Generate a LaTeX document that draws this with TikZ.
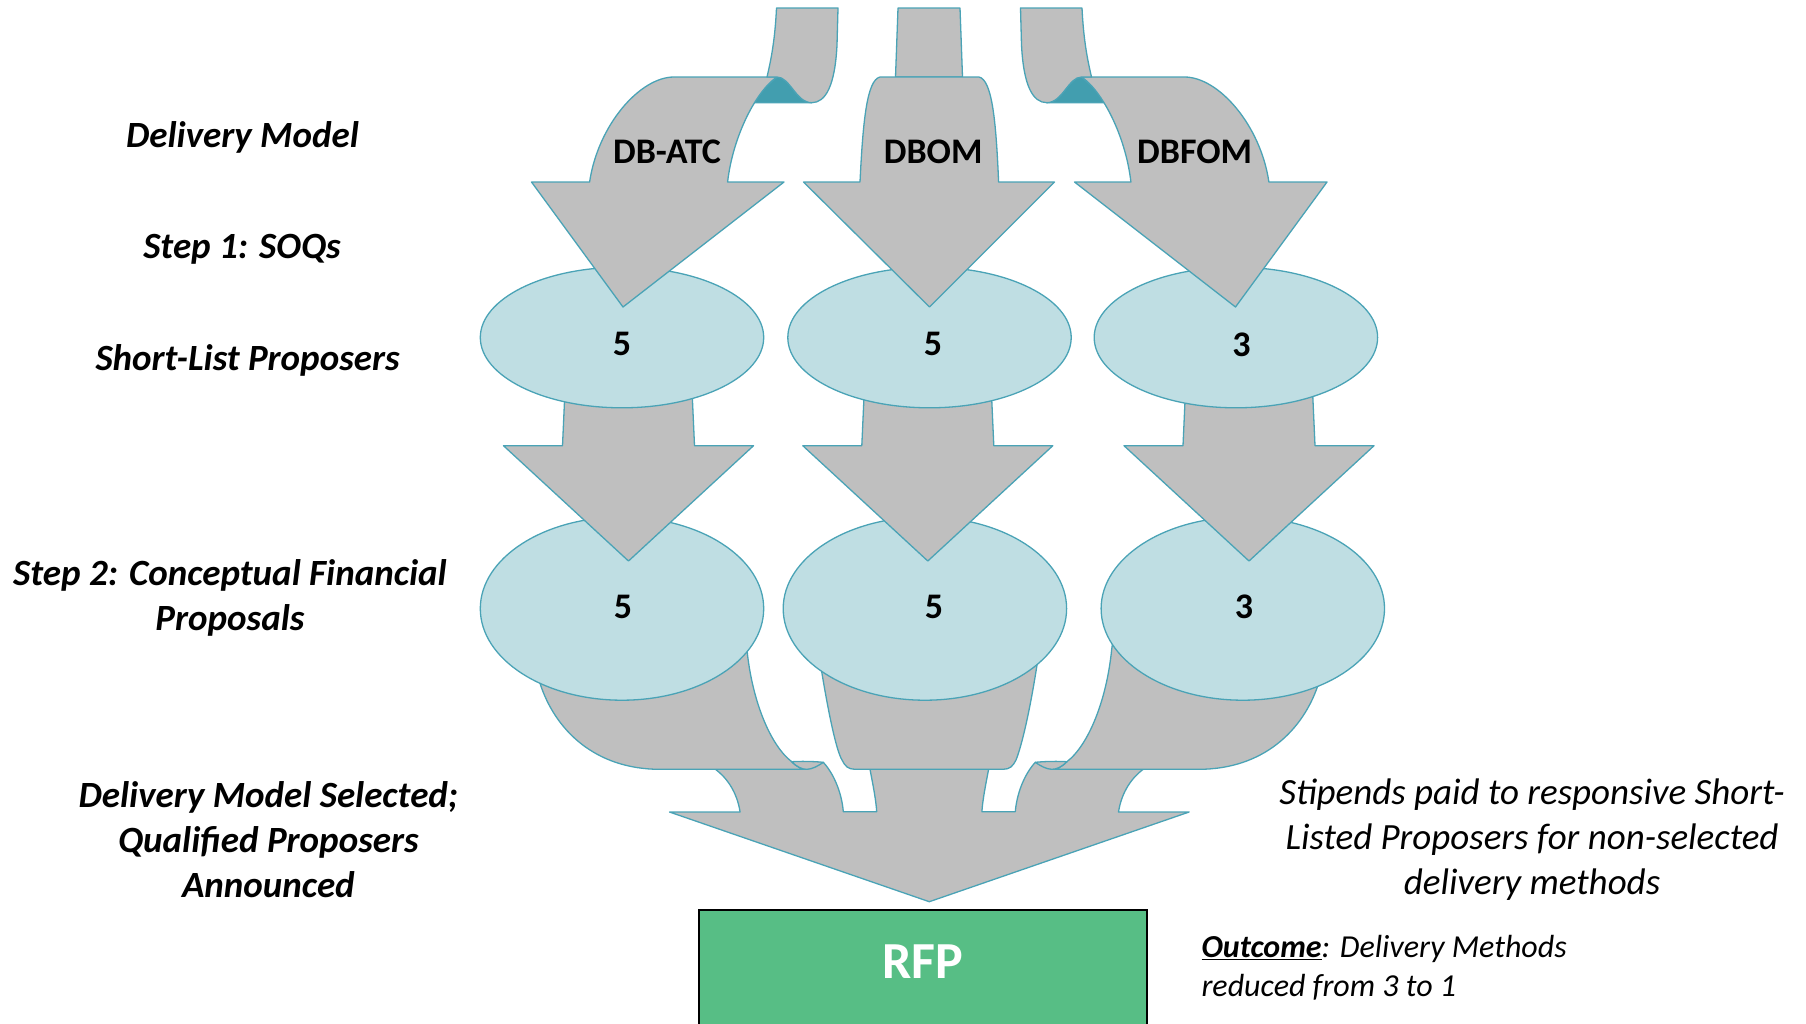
\documentclass[tikz,border=0pt]{standalone}
\usepackage{fontspec}
\setmainfont{Carlito}
\usetikzlibrary{shapes.geometric}
\definecolor{ribbongrey}{HTML}{BFBFBF}
\definecolor{edgeteal}{HTML}{4AA3B6}
\definecolor{foldteal}{HTML}{429EAF}
\definecolor{bubblefill}{HTML}{BFDEE3}
\definecolor{rfpgreen}{HTML}{57BE85}
\begin{document}
\begin{tikzpicture}[x=1pt,y=-1pt,
  ribbon/.style={fill=ribbongrey,draw=edgeteal,line width=1.3pt,line join=round},
  fold/.style={fill=foldteal,draw=edgeteal,line width=1.3pt,line join=round},
  bubble/.style={ellipse,fill=bubblefill,draw=edgeteal,line width=1.3pt,inner sep=0pt,minimum width=283.4pt},
  rfpbox/.style={fill=rfpgreen,draw=black,line width=2.2pt},
  steplabel/.style={font=\fontsize{37}{45}\selectfont\bfseries\itshape,align=center,inner sep=0pt},
  model/.style={font=\fontsize{36}{44}\selectfont\bfseries,inner sep=0pt},
  count/.style={font=\fontsize{36}{44}\selectfont\bfseries,inner sep=0pt},
  note/.style={font=\fontsize{37}{45}\selectfont\itshape,align=center,inner sep=0pt},
  outcome/.style={font=\fontsize{32}{39}\selectfont\itshape,align=left,inner sep=0pt},
  % straight block arrow between the two rows of ellipses
  midarrow/.pic={
    \path[ribbon] (-63.5,0) -- (-66,55.7) -- (-125,55.7) -- (0,171)
      -- (125,55.7) -- (66,55.7) -- (63.5,0) -- cycle;
  },
  % folded ribbon arrow of the left column (mirrored for the right one)
  bentarrow/.pic={
    \path[fold] (777,77) .. controls (790,77) and (796,102.7) .. (811.7,102.7)
      -- (748,102.7) -- cycle;
    \path[ribbon] (589.6,182) .. controls (598,125) and (640,77) .. (674,77)
      -- (777,77) .. controls (757,90) and (733,135) .. (727.6,182)
      -- (784,182) -- (623,307) -- (531.5,182) -- cycle;
    \path[ribbon] (776.5,8) -- (838,8) -- (837,45)
      .. controls (835,85) and (826,102.7) .. (811.7,102.7)
      .. controls (796,102.7) and (790,77) .. (777,77)
      -- (767,77) .. controls (771,60) and (775,40) .. (776.5,8) -- cycle;
  },
  % ribbon leaving the left lower ellipse, with its small fold
  sideribbon/.pic={
    \path[ribbon] (530,665) -- (540,683.3)
      .. controls (555,730) and (595,769.3) .. (660,769.3)
      -- (806.7,769.3) .. controls (802,769.3) and (797,767) .. (791.7,761.7)
      .. controls (770,745) and (752,700) .. (747,650) -- (742,615) -- cycle;
    \path[ribbon] (791.7,761.7) .. controls (797,767) and (802,769.3) .. (806.7,769.3)
      .. controls (812,769.3) and (818,766) .. (823.3,762.3)
      .. controls (812,761.2) and (800,761.2) .. (791.7,761.7) -- cycle;
  }
]
\useasboundingbox (0,0) rectangle (1806,1023);

% merged arrow pointing to the RFP box
\path[ribbon] (715.5,769.3) .. controls (727,778) and (737,792) .. (740.1,812)
  -- (669.5,812) -- (929.3,901.7) -- (1189.1,812) -- (1118.5,812)
  .. controls (1121.6,792) and (1131.6,778) .. (1143.1,769.3)
  -- (1051.9,769.3) -- (1035.3,762.3)
  .. controls (1023.6,775) and (1016.6,795) .. (1015.3,811.7)
  -- (981.9,811.7) .. controls (982.6,800) and (985.6,785) .. (988.6,769.3)
  -- (870,769.3) .. controls (873,785) and (876,800) .. (876.7,811.7)
  -- (843.3,811.7) .. controls (842,795) and (835,775) .. (823.3,762.3)
  -- (806.7,769.3) -- cycle;

% ribbons from the lower ellipses
\pic {sideribbon};
\begin{scope}[cm={-1,0,0,1,(1858.6pt,0pt)}]
  \pic[transform shape] {sideribbon};
\end{scope}
\path[ribbon] (818,640) -- (821.7,671.7) .. controls (828,710) and (836,750) .. (842,760)
  .. controls (845,766) and (848,769.3) .. (855,769.3) -- (1003,769.3)
  .. controls (1010,769.3) and (1013,766) .. (1016,760)
  .. controls (1022,745) and (1030,710) .. (1037,665) -- (1040,640) -- cycle;

% second row of ellipses
\node[bubble,minimum height=183.2pt] (c1) at (622,608.6) {};
\node[bubble,minimum height=183.2pt] (c2) at (924.9,608.6) {};
\node[bubble,minimum height=183.2pt] (c3) at (1242.8,608.6) {};

% arrows between the rows
\pic at (628.5,390) {midarrow};
\pic at (927.8,390) {midarrow};
\pic at (1249,390) {midarrow};

% first row of ellipses
\node[bubble,minimum height=140.6pt] (s1) at (622,337.5) {};
\node[bubble,minimum height=140.6pt] (s2) at (929.5,337.5) {};
\node[bubble,minimum height=140.6pt] (s3) at (1235.9,337.5) {};

% delivery model arrows
\pic {bentarrow};
\begin{scope}[cm={-1,0,0,1,(1858.5pt,0pt)}]
  \pic[transform shape] {bentarrow};
\end{scope}
\path[ribbon] (898,8) -- (960,8) -- (962.5,77) -- (895.5,77) -- cycle;
\path[ribbon] (860,182) .. controls (863,120) and (867,80) .. (880,77)
  -- (979,77) .. controls (992,80) and (996,120) .. (998.6,182)
  -- (1054.5,182) -- (929.5,307) -- (803.5,182) -- cycle;

% model names
\node[model] (dbatc) at (667,151.7) {DB-ATC};
\node[model] (dbom) at (933.2,151.7) {DBOM};
\node[model] (dbfom) at (1194.7,151.7) {DBFOM};

% proposer counts
\node[count] (n1) at (622,344.4) {5};
\node[count] (n2) at (933,344.4) {5};
\node[count] (n3) at (1241.6,344.4) {3};
\node[count] (n4) at (623,607) {5};
\node[count] (n5) at (934,607) {5};
\node[count] (n6) at (1244,607) {3};

% RFP box
\path[rfpbox] (699.2,910) rectangle (1147.2,1060);
\node[font=\fontsize{52}{60}\selectfont\bfseries,text=white,inner sep=0pt] (rfp) at (922.6,961.8) {RFP};

% stage labels
\node[steplabel] (lmodel) at (242.5,137) {Delivery Model};
\node[steplabel] (lstep1) at (242,248.8) {Step 1: SOQs};
\node[steplabel] (lshort) at (247.6,360.5) {Short-List Proposers};
\node[steplabel] (lstep2) at (230,598.4) {Step 2: Conceptual Financial\\Proposals};
\node[steplabel] (lselect) at (268.4,839.7) {Delivery Model Selected;\\Qualified Proposers\\Announced};

% notes
\node[note] (stipend) at (1532,839.7) {Stipends paid to responsive Short-\\Listed Proposers for non-selected\\delivery methods};
\node[outcome,anchor=west] (outcome) at (1201.3,967.5) {\underline{\textbf{Outcome}}: Delivery Methods\\reduced from 3 to 1};
\end{tikzpicture}
\end{document}
